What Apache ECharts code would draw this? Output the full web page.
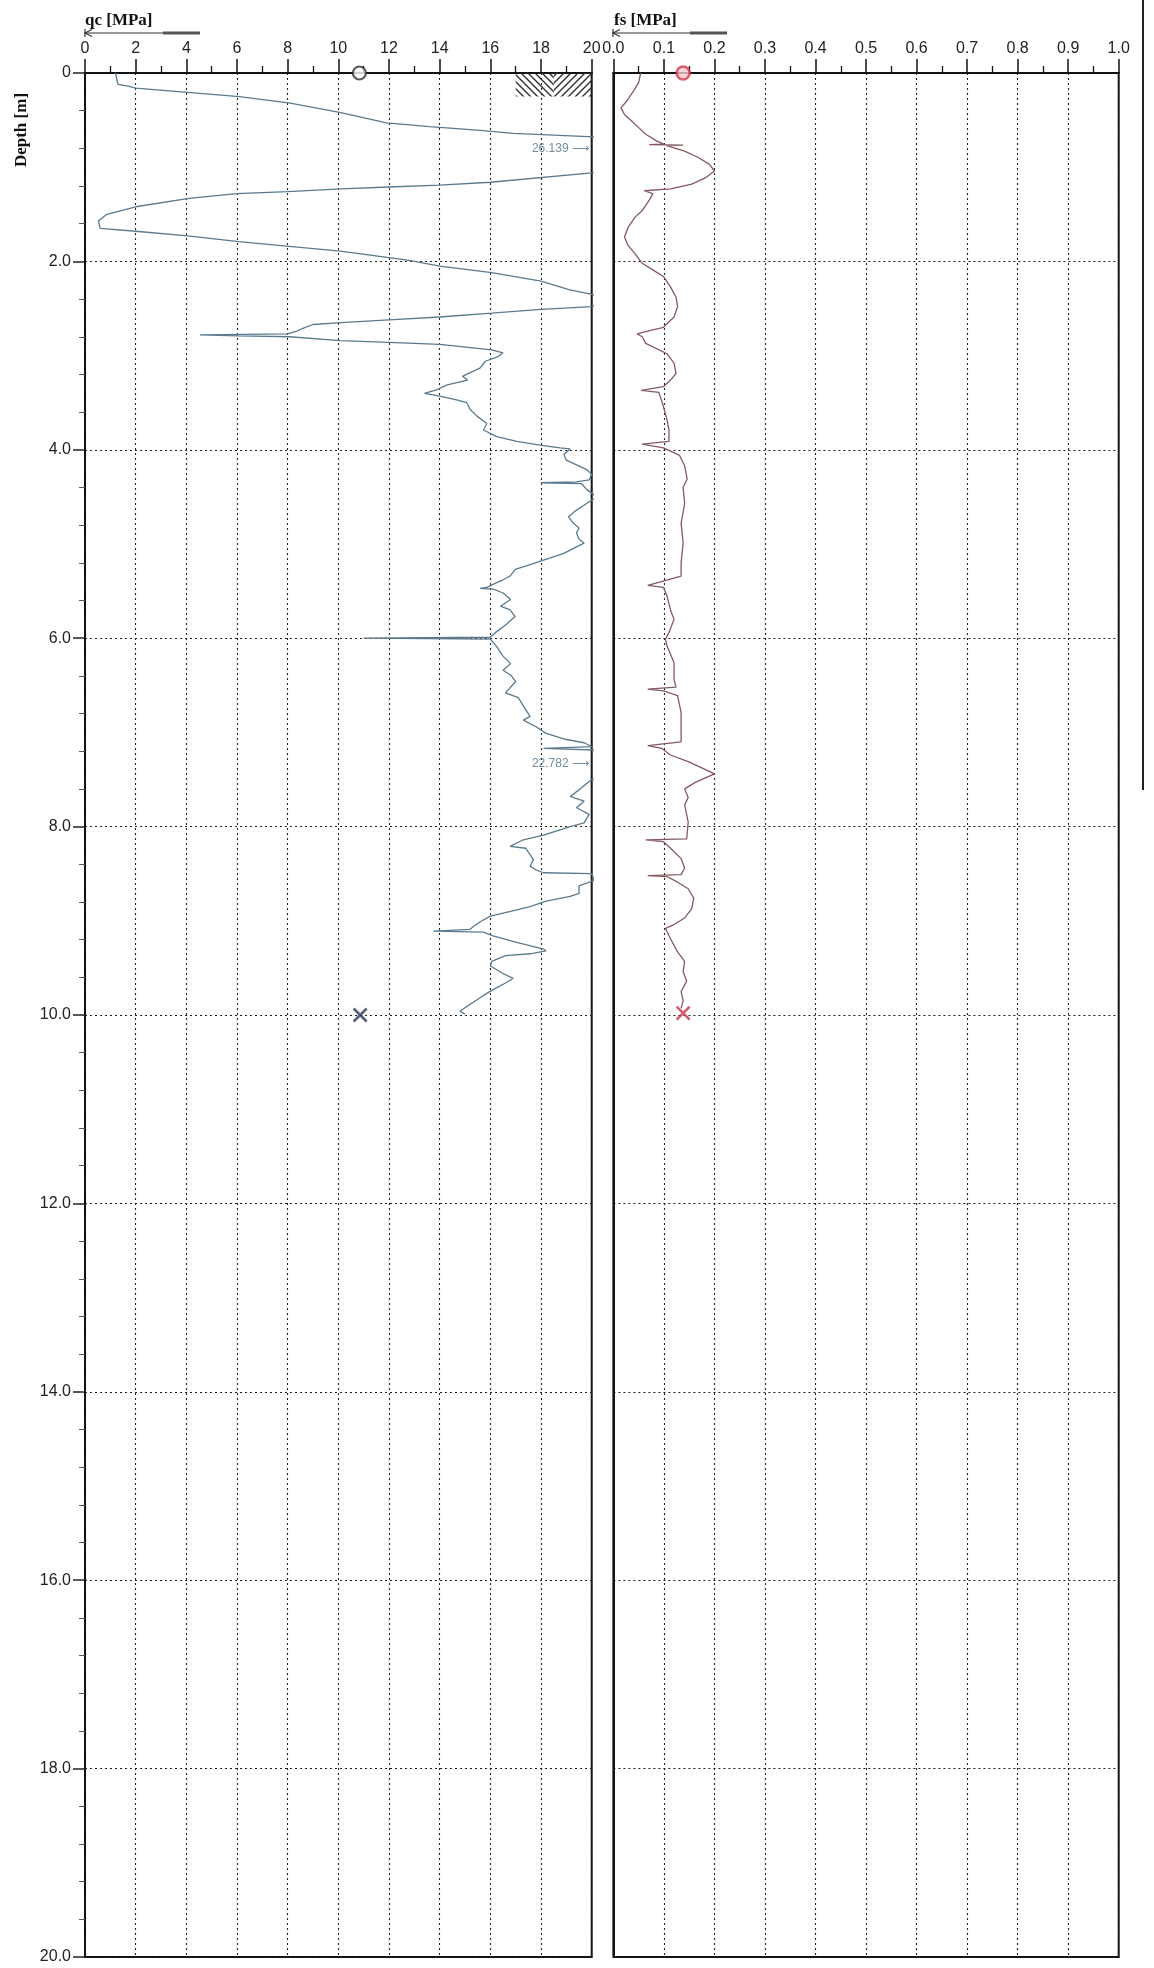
<!DOCTYPE html>
<html><head><meta charset="utf-8">
<script src="https://cdn.jsdelivr.net/npm/echarts@6/dist/echarts.min.js"></script>
<style>html,body{margin:0;padding:0;background:#fff}#c{width:1154px;height:1968px}</style>
</head><body><div id="c"></div>
<script>
// ---------- DATA ----------
const qcDepth = [0.00,0.12,0.14,0.16,0.25,0.32,0.42,0.53,0.57,0.61,0.64,0.68,0.75,0.85,0.95,1.02,1.06,1.16,1.19,1.21,1.23,1.26,1.28,1.33,1.42,1.50,1.57,1.65,1.68,1.73,1.79,1.84,1.89,1.96,1.99,2.05,2.12,2.21,2.30,2.35,2.42,2.48,2.51,2.55,2.59,2.62,2.65,2.67,2.71,2.74,2.77,2.78,2.79,2.80,2.84,2.86,2.88,2.94,2.97,3.01,3.06,3.13,3.22,3.26,3.31,3.36,3.40,3.43,3.47,3.50,3.57,3.64,3.72,3.79,3.86,3.91,3.95,3.98,3.99,4.05,4.11,4.16,4.21,4.26,4.32,4.34,4.35,4.36,4.42,4.50,4.57,4.64,4.71,4.78,4.83,4.88,4.95,4.99,5.03,5.10,5.17,5.22,5.27,5.34,5.38,5.41,5.46,5.47,5.48,5.52,5.59,5.66,5.70,5.77,5.86,5.93,5.99,6.00,6.01,6.09,6.19,6.27,6.34,6.39,6.46,6.58,6.63,6.76,6.83,6.87,6.94,7.01,7.07,7.11,7.15,7.17,7.19,7.25,7.32,7.40,7.47,7.50,7.61,7.68,7.73,7.80,7.87,7.96,8.00,8.09,8.14,8.21,8.23,8.35,8.42,8.46,8.49,8.50,8.57,8.63,8.71,8.74,8.79,8.85,8.90,8.95,9.01,9.06,9.09,9.11,9.12,9.16,9.23,9.30,9.32,9.35,9.37,9.43,9.48,9.52,9.56,9.61,9.66,9.71,9.77,9.84,9.91,9.96,9.99];
const qcValue = [1.2,1.3,1.7,2.0,6.1,8.1,10.1,11.9,13.6,15.6,16.9,20.3,23.5,26.139,24.0,21.5,20.0,16.0,14.0,12.0,10.1,8.0,6.0,4.1,2.0,0.86,0.53,0.6,2.0,4.05,6.07,8.07,10.07,12.0,12.8,14.0,16.05,18.0,19.1,20.0,20.6,20.0,18.0,16.05,14.0,12.0,10.1,9.0,8.6,8.36,8.0,4.54,6.07,8.07,10.07,12.0,14.0,16.05,16.5,16.3,15.8,15.6,14.9,15.1,14.3,13.9,13.4,14.0,14.67,15.07,15.2,15.46,15.86,15.73,16.25,17.04,17.96,18.75,19.15,18.9,19.0,19.4,19.8,20.0,19.9,19.4,18.0,19.6,19.8,20.2,19.8,19.4,19.08,19.28,19.5,19.4,19.5,19.7,19.4,18.9,18.1,17.57,16.98,16.78,16.5,16.25,15.86,15.6,16.12,16.5,16.8,16.4,16.78,16.98,16.6,16.25,16.0,11.0,16.0,16.25,16.5,16.8,16.5,16.8,17.0,16.6,17.1,17.4,17.57,17.3,17.8,18.2,18.9,19.7,20.0,18.1,20.5,22.0,22.782,21.5,20.4,20.0,19.5,19.15,19.7,19.4,19.9,19.7,19.15,18.1,17.3,16.78,17.4,17.7,17.57,17.8,18.1,20.0,20.1,19.5,19.5,19.15,18.2,17.57,16.8,16.0,15.6,15.33,15.2,13.75,15.73,16.1,17.04,18.1,18.2,17.57,16.6,16.05,16.0,16.25,16.5,16.9,16.6,16.25,15.86,15.46,15.07,14.8,15.0];

const fsDepth = [0.00,0.10,0.19,0.30,0.37,0.44,0.51,0.58,0.65,0.72,0.755,0.76,0.765,0.77,0.83,0.90,0.97,1.04,1.11,1.18,1.23,1.25,1.28,1.35,1.46,1.53,1.64,1.74,1.83,1.92,2.02,2.09,2.16,2.27,2.38,2.48,2.59,2.70,2.75,2.77,2.80,2.87,2.98,3.08,3.19,3.26,3.33,3.37,3.39,3.54,3.68,3.79,3.91,3.94,3.98,4.06,4.17,4.31,4.40,4.57,4.78,4.99,5.20,5.34,5.44,5.46,5.55,5.70,5.80,5.94,6.01,6.08,6.26,6.44,6.52,6.54,6.56,6.61,6.79,6.96,7.10,7.14,7.17,7.24,7.31,7.38,7.44,7.53,7.60,7.69,7.77,7.95,8.13,8.14,8.16,8.23,8.34,8.44,8.51,8.52,8.53,8.59,8.66,8.76,8.87,8.97,9.04,9.08,9.19,9.33,9.43,9.54,9.64,9.75,9.85,9.93];
const fsValue = [0.054,0.05,0.04,0.026,0.015,0.022,0.036,0.05,0.064,0.085,0.10,0.071,0.138,0.105,0.141,0.169,0.19,0.2,0.183,0.155,0.113,0.061,0.078,0.071,0.057,0.043,0.029,0.022,0.029,0.043,0.057,0.078,0.099,0.113,0.124,0.127,0.12,0.099,0.06,0.047,0.057,0.064,0.106,0.12,0.124,0.113,0.099,0.055,0.09,0.099,0.106,0.11,0.11,0.057,0.099,0.131,0.141,0.146,0.138,0.141,0.134,0.138,0.134,0.134,0.068,0.099,0.106,0.113,0.12,0.11,0.103,0.106,0.12,0.12,0.124,0.068,0.099,0.127,0.134,0.134,0.134,0.068,0.096,0.113,0.148,0.176,0.2,0.162,0.141,0.148,0.141,0.148,0.145,0.064,0.099,0.113,0.134,0.141,0.134,0.068,0.106,0.127,0.148,0.159,0.155,0.141,0.12,0.103,0.113,0.127,0.141,0.138,0.145,0.134,0.138,0.134];

// off-scale annotations [qc anchor, depth, text]
const qcNotes = [[19.9, 0.80, '26.139'], [19.9, 7.33, '22.782']];
// start / end markers
const qcStart = [10.83, 0.0];
const qcEnd = [10.86, 10.0];
const fsStart = [0.138, 0.0];
const fsEnd = [0.138, 9.98];
// soil symbol box [qcFrom, depthFrom, qcTo, depthTo, pattern]
const soilBoxes = [[17.0, 0, 18.5, 0.25, 'back'], [18.5, 0, 20.0, 0.25, 'fwd']];
// axis ranges / tick intervals
const qcRange = [0, 20, 2];
const fsRange = [0, 1, 0.1];
const depthRange = [0, 20, 2];

// ---------- STYLE HELPERS ----------
function makeHatch(dir) {
  const s = 7, c = document.createElement('canvas');
  c.width = s; c.height = s;
  const g = c.getContext('2d');
  g.strokeStyle = '#2a2a2a'; g.lineWidth = 1.3;
  g.beginPath();
  if (dir === 'back') {
    g.moveTo(0, 0); g.lineTo(s, s);
    g.moveTo(-2, s - 2); g.lineTo(2, s + 2);
    g.moveTo(s - 2, -2); g.lineTo(s + 2, 2);
  } else {
    g.moveTo(0, s); g.lineTo(s, 0);
    g.moveTo(-2, 2); g.lineTo(2, -2);
    g.moveTo(s - 2, s + 2); g.lineTo(s + 2, s - 2);
  }
  g.stroke();
  return { image: c, repeat: 'repeat' };
}
const hatches = { back: makeHatch('back'), fwd: makeHatch('fwd') };

const tickFont = 'Liberation Sans';
const gridDot = { color: '#222', type: [2, 3], width: 1.1 };
const frame = { color: '#111', width: 2 };
const X_PATH = 'path://M0 0L10 10M10 0L0 10';

function xAxisCfg(idx, rng, fmt) {
  return {
    gridIndex: idx, type: 'value', position: 'top', min: rng[0], max: rng[1], interval: rng[2],
    axisLine: { show: true, lineStyle: frame },
    axisTick: { show: true, inside: false, length: 14, lineStyle: { color: '#111', width: 1.5 } },
    minorTick: { show: true, splitNumber: 2, length: 7, lineStyle: { color: '#111', width: 1.3 } },
    axisLabel: { margin: 16, fontSize: 16, color: '#222', fontFamily: tickFont, formatter: fmt },
    splitLine: { show: true, lineStyle: gridDot }
  };
}
function yAxisCfg(idx, labels) {
  return {
    gridIndex: idx, type: 'value', inverse: true, min: depthRange[0], max: depthRange[1], interval: depthRange[2],
    axisLine: { show: true, lineStyle: frame },
    axisTick: { show: labels, inside: false, length: 12, lineStyle: { color: '#222', width: 1.5 } },
    minorTick: { show: labels, splitNumber: 5, length: 6, lineStyle: { color: '#555', width: 1 } },
    axisLabel: { show: labels, margin: 14, fontSize: 16, color: '#222', fontFamily: tickFont,
      formatter: v => v === 0 ? '0' : v.toFixed(1) },
    splitLine: { show: true, lineStyle: gridDot }
  };
}

const chart = echarts.init(document.getElementById('c'), null, { renderer: 'canvas' });
chart.setOption({
  animation: false,
  backgroundColor: '#fff',
  grid: [
    { left: 85, top: 73, width: 506.7, height: 1884, show: true, borderColor: '#111', borderWidth: 2, outerBoundsMode: 'none' },
    { left: 613.4, top: 73, width: 505.3, height: 1884, show: true, borderColor: '#111', borderWidth: 2, outerBoundsMode: 'none' }
  ],
  xAxis: [
    xAxisCfg(0, qcRange, v => String(v)),
    xAxisCfg(1, fsRange, v => v.toFixed(1))
  ],
  yAxis: [yAxisCfg(0, true), yAxisCfg(1, false)],
  series: [
    {
      type: 'custom', xAxisIndex: 0, yAxisIndex: 0, z: 3,
      data: soilBoxes,
      renderItem: (params, api) => {
        const p1 = api.coord([api.value(0), api.value(1)]);
        const p2 = api.coord([api.value(2), api.value(3)]);
        const key = soilBoxes[params.dataIndex][4];
        return { type: 'rect', shape: { x: p1[0], y: p1[1], width: p2[0] - p1[0], height: p2[1] - p1[1] },
          style: { fill: hatches[key], stroke: null } };
      }
    },
    {
      name: 'qc', type: 'line', xAxisIndex: 0, yAxisIndex: 0, showSymbol: false, z: 4,
      data: qcValue.map((v, i) => [v, qcDepth[i]]),
      lineStyle: { color: '#5b7a8e', width: 1.3 }
    },
    {
      name: 'fs', type: 'line', xAxisIndex: 1, yAxisIndex: 1, showSymbol: false, z: 4,
      data: fsValue.map((v, i) => [v, fsDepth[i]]),
      lineStyle: { color: '#85595f', width: 1.3 }
    },
    {
      type: 'scatter', xAxisIndex: 0, yAxisIndex: 0, symbolSize: 0, z: 5,
      data: qcNotes,
      label: { show: true, position: 'left', distance: 0, fontSize: 12, color: '#4f6f84',
        fontFamily: 'Liberation Sans, DejaVu Sans', formatter: p => p.value[2] + ' \u27F6' }
    },
    {
      type: 'scatter', xAxisIndex: 0, yAxisIndex: 0, z: 6, symbol: 'circle', symbolSize: 13,
      data: [qcStart], itemStyle: { color: '#fff', borderColor: '#333', borderWidth: 2.2 }
    },
    {
      type: 'scatter', xAxisIndex: 0, yAxisIndex: 0, z: 6, symbol: X_PATH, symbolSize: 13,
      data: [qcEnd], itemStyle: { color: 'none', borderColor: '#2a3a58', borderWidth: 2.6 }
    },
    {
      type: 'scatter', xAxisIndex: 1, yAxisIndex: 1, z: 6, symbol: 'circle', symbolSize: 13,
      data: [fsStart], itemStyle: { color: '#f6c9cf', borderColor: '#d23a4e', borderWidth: 2.6 }
    },
    {
      type: 'scatter', xAxisIndex: 1, yAxisIndex: 1, z: 6, symbol: X_PATH, symbolSize: 13,
      data: [fsEnd], itemStyle: { color: 'none', borderColor: '#c93448', borderWidth: 2.6 }
    }
  ],
  graphic: [
    { type: 'text', x: 85, y: 12, style: { text: 'qc [MPa]', font: 'bold 17px "Liberation Serif"', fill: '#111' } },
    { type: 'line', shape: { x1: 85, y1: 33, x2: 200, y2: 33 }, style: { stroke: '#333', lineWidth: 1.2 } },
    { type: 'polyline', shape: { points: [[92, 29.5], [85, 33], [92, 36.5]] }, style: { stroke: '#333', lineWidth: 1.2, fill: null } },
    { type: 'line', shape: { x1: 85, y1: 29, x2: 85, y2: 37 }, style: { stroke: '#333', lineWidth: 1.2 } },
    { type: 'rect', shape: { x: 163, y: 31.5, width: 37, height: 3 }, style: { fill: '#555' } },
    { type: 'text', x: 614, y: 12, style: { text: 'fs [MPa]', font: 'bold 17px "Liberation Serif"', fill: '#111' } },
    { type: 'line', shape: { x1: 613, y1: 33, x2: 727, y2: 33 }, style: { stroke: '#333', lineWidth: 1.2 } },
    { type: 'polyline', shape: { points: [[620, 29.5], [613, 33], [620, 36.5]] }, style: { stroke: '#333', lineWidth: 1.2, fill: null } },
    { type: 'line', shape: { x1: 613, y1: 29, x2: 613, y2: 37 }, style: { stroke: '#333', lineWidth: 1.2 } },
    { type: 'rect', shape: { x: 690, y: 31.5, width: 37, height: 3 }, style: { fill: '#555' } },
    { type: 'text', x: 22, y: 130, rotation: Math.PI / 2,
      style: { text: 'Depth [m]', font: 'bold 17px "Liberation Serif"', fill: '#111', align: 'center', verticalAlign: 'middle' } },
    { type: 'line', shape: { x1: 1143, y1: 0, x2: 1143, y2: 790 }, style: { stroke: '#222', lineWidth: 2 } }
  ]
});
</script>
</body></html>
